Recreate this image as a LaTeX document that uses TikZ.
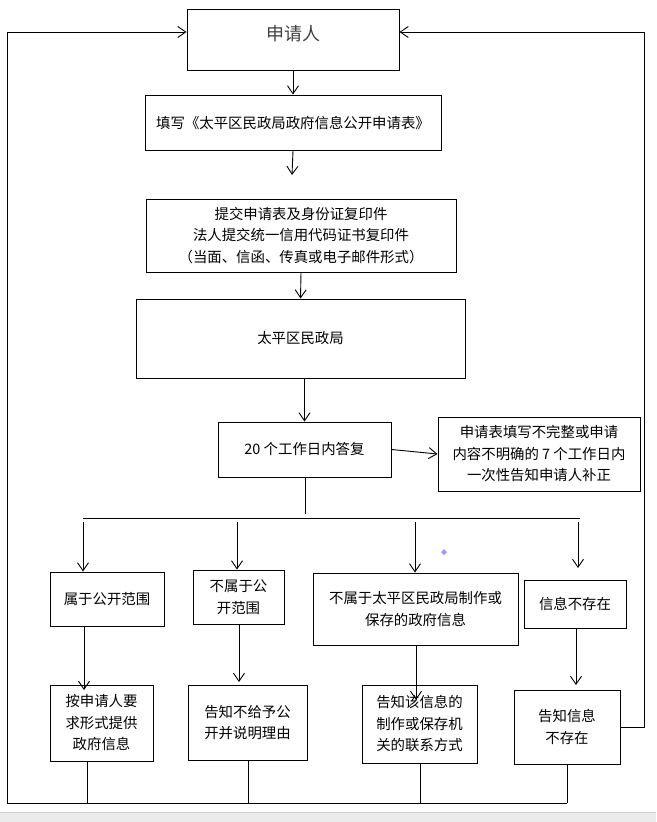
\documentclass[tikz,border=0pt]{standalone}
\usepackage{fontspec}
\newfontfamily\cjk{Noto Sans CJK SC}
\usetikzlibrary{arrows.meta}
\tikzset{
  box/.style={draw, line width=1pt, align=center, inner sep=0pt,
    font=\cjk\fontsize{14.4}{21.5}\selectfont},
  arr/.style={-{Straight Barb[length=8pt,width=11pt]}, line width=0.9pt},
  wire/.style={line width=0.9pt},
}
\begin{document}
\begin{tikzpicture}[x=1pt,y=-1pt]
        \useasboundingbox (0,0) rectangle (656,822);
        \fill[black!8] (0,812) rectangle (656,822); %page edge
        \draw[black!18] (0,812.5) -- (656,812.5);

        \node[box, minimum width=212pt, minimum height=61pt, font=\cjk\fontsize{18}{22}\selectfont, text=black!75, text depth=14pt] (sq) at (293,39.5) {申请人}; %applicant
        \node[box, minimum width=296pt, minimum height=55pt] (tb) at (293,122.5) {填写《太平区民政局政府信息公开申请表》}; %form
        \node[box, minimum width=310pt, minimum height=73pt] (tj) at (301,235.5) {提交申请表及身份证复印件\\法人提交统一信用代码证书复印件\\（当面、信函、传真或电子邮件形式）}; %submit
        \node[box, minimum width=329pt, minimum height=79pt] (mz) at (300.5,338.5) {太平区民政局}; %bureau
        \node[box, minimum width=173pt, minimum height=55pt] (df) at (304.5,449.5) {20 个工作日内答复}; %reply
        \node[box, minimum width=202pt, minimum height=74pt] (bz) at (539,454) {申请表填写不完整或申请\\内容不明确的 7 个工作日内\\一次性告知申请人补正}; %correction

        \node[box, minimum width=114pt, minimum height=54pt] (a1) at (107,599) {属于公开范围};
        \node[box, minimum width=91pt, minimum height=54pt] (a2) at (238.5,597) {不属于公\\开范围};
        \node[box, minimum width=205pt, minimum height=72pt] (a3) at (415.5,609) {不属于太平区民政局制作或\\保存的政府信息};
        \node[box, minimum width=102pt, minimum height=48pt] (a4) at (575,604) {信息不存在};

        \node[box, minimum width=103pt, minimum height=76pt] (b1) at (101.5,723) {按申请人要\\求形式提供\\政府信息};
        \node[box, minimum width=119pt, minimum height=75pt] (b2) at (247.5,722.5) {告知不给予公\\开并说明理由};
        \node[box, minimum width=115pt, minimum height=78pt] (b3) at (419.5,724) {告知该信息的\\制作或保存机\\关的联系方式};
        \node[box, minimum width=106pt, minimum height=74pt] (b4) at (567,727) {告知信息\\不存在};

        \fill[blue!40] (444,549) -- (447,552) -- (444,555) -- (441,552) -- cycle; %stray mark

        % free ends
        \coordinate (tip1) at (292,175);
        \coordinate (fork) at (305.5,514);
        \coordinate (busL) at (83,518);
        \coordinate (busR) at (580,518);
        \coordinate (d1) at (83,522);
        \coordinate (d2) at (237,522);
        \coordinate (d3) at (415,522);
        \coordinate (d4) at (578,522);
        \coordinate (e4) at (578,568);
        \coordinate (u1) at (84,690);
        \coordinate (u2) at (239,682);
        \coordinate (u3) at (416,700);
        \coordinate (u4) at (576,685);
        \coordinate (v1) at (87,803);
        \coordinate (v2) at (248,803);
        \coordinate (v3) at (420,803);
        \coordinate (v4) at (567,803);
        \coordinate (lowL) at (7,803);
        \coordinate (rightX) at (644,32);

        \draw[arr] (sq.south) -- (tb.north);
        \draw[arr] (tb.south) -- (tip1);
        \draw[arr] (tj.south) -- (mz.north);
        \draw[arr] (df.north |- mz.south) -- (df.north);
        \draw[arr] (df.east) -- (bz.west);
        \draw[wire] (fork |- df.south) -- (fork);
        \draw[wire] (busL) -- (busR);

        \draw[arr] (d1) -- (d1 |- a1.north);
        \draw[arr] (d2) -- (d2 |- a2.north);
        \draw[arr] (d3) -- (d3 |- a3.north);
        \draw[arr] (d4) -- (e4);

        \draw[arr] (u1 |- a1.south) -- (u1);
        \draw[arr] (u2 |- a2.south) -- (u2);
        \draw[arr] (u3 |- a3.south) -- (u3);
        \draw[arr] (u4 |- a4.south) -- (u4);

        \draw[wire] (v1 |- b1.south) -- (v1);
        \draw[wire] (v2 |- b2.south) -- (v2);
        \draw[wire] (v3 |- b3.south) -- (v3);
        \draw[wire] (v4 |- b4.south) -- (v4);
        \draw[wire] (lowL) -- (v4);

        \draw[arr] (lowL) |- ([yshift=7.5pt]sq.west); %back to applicant
        \draw[arr] (b4.east) -| (rightX) -- ([yshift=7.5pt]sq.east);
\end{tikzpicture}
\end{document}
